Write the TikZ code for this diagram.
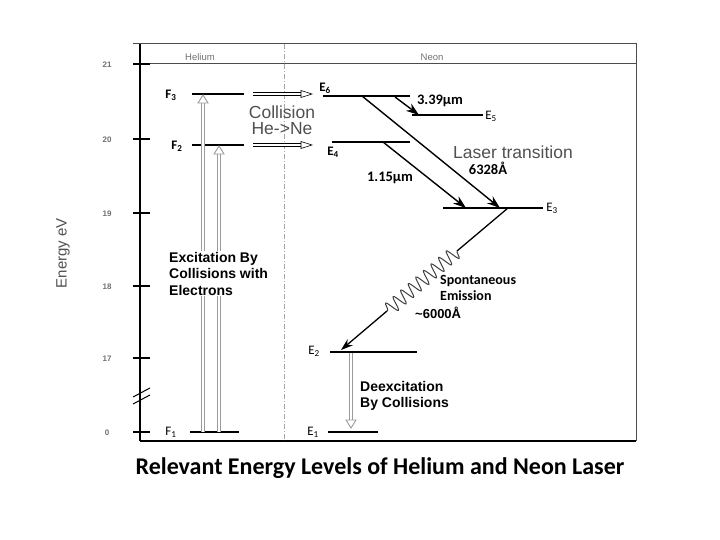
\documentclass[tikz,border=0pt]{standalone}
\usepackage{fontspec}
\setmainfont{Liberation Sans}
\newfontfamily\calib{Carlito}
\usetikzlibrary{arrows.meta,decorations.pathmorphing,calc}
\definecolor{txtgray}{HTML}{505050}
\definecolor{lightgray}{HTML}{707070}
\definecolor{arrgray}{HTML}{9A9A9A}
\newcommand{\lv}[2]{#1\textsubscript{#2}}
\begin{document}
\begin{tikzpicture}[x=1pt,y=-1pt,
  frameline/.style={draw=black!70, line width=1pt},
  lvl/.style={line width=1.5pt},
  ray/.style={line width=1.4pt,-{Stealth[length=13pt,width=9pt]}},
  hshaft/.style={draw=arrgray, double=white, double distance=2.6pt, line width=0.9pt},
  hhead/.style={draw=arrgray, fill=white, line width=0.9pt, line join=miter},
  cshaft/.style={draw=black, double=white, double distance=2.2pt, line width=0.6pt},
  chead/.style={draw=black, fill=white, line width=0.6pt},
  lab/.style={font=\calib\bfseries\fontsize{13}{14}\selectfont, inner sep=0pt},
  num/.style={font=\calib\bfseries\fontsize{14.5}{15}\selectfont, inner sep=0pt},
  ticklab/.style={font=\bfseries\fontsize{8}{9}\selectfont, text=lightgray, inner sep=0pt},
  bigtxt/.style={font=\fontsize{17.5}{16}\selectfont, text=txtgray, inner sep=0pt, align=center},
  boldtxt/.style={font=\bfseries\fontsize{14}{16.5}\selectfont, align=left, inner sep=1pt, anchor=north west},
  hdr/.style={font=\fontsize{9.5}{10}\selectfont, text=lightgray, inner sep=0pt}
]
\useasboundingbox (0,0) rectangle (720,540);

% frame
\draw[frameline] (133,44) -- (636,44) -- (636,441);
\draw[frameline] (133,64) -- (636,64);
\draw[line width=1.8pt] (140,441) -- (636,441);
\draw[line width=1.5pt] (140,44) -- (140,441);
\draw[draw=gray!70, line width=1pt, dash pattern=on 5pt off 2pt on 1pt off 2pt] (284,44) -- (284,441);
\node[hdr] (he) at (200,57) {Helium};
\node[hdr] (ne) at (432,57) {Neon};

% ticks
\foreach \yy/\tl in {64/21,139/20,213/19,286/18,358/17,432/0}{
  \draw[line width=1.2pt] (133,\yy) -- (150,\yy);
  \node[ticklab] at (107,\yy+1) {\tl};
}
\draw[line width=1pt] (133,397) -- (150,388);
\draw[line width=1pt] (133,404) -- (150,395);
\node[rotate=90, font=\fontsize{15}{15}\selectfont, text=txtgray] (ax) at (63,253) {Energy eV};

% helium levels
\coordinate (F3a) at (192,94);  \coordinate (F3b) at (244,94);
\coordinate (F2a) at (192,145); \coordinate (F2b) at (244,145);
\coordinate (F1a) at (190,432); \coordinate (F1b) at (239,432);
\draw[lvl] (F3a) -- (F3b);
\draw[lvl] (F2a) -- (F2b);
\draw[lvl] (F1a) -- (F1b);
\node[lab] (lF3) at (171,95) {\lv{F}{3}};
\node[lab] (lF2) at (177,146) {\lv{F}{2}};
\node[lab, font=\calib\fontsize{13}{14}\selectfont] (lF1) at (171,432) {\lv{F}{1}};

% excitation arrows
\coordinate (x1b) at (203,432); \coordinate (x1t) at (203,95);
\coordinate (x2b) at (219,432); \coordinate (x2t) at (219,146);
\draw[hshaft] (x1b) -- ($(x1t)+(0,6)$);
\draw[hhead] ($(x1t)+(-5,8)$) -- (x1t) -- ($(x1t)+(5,8)$) -- cycle;
\draw[hshaft] (x2b) -- ($(x2t)+(0,6)$);
\draw[hhead] ($(x2t)+(-5,8)$) -- (x2t) -- ($(x2t)+(5,8)$) -- cycle;
\node[boldtxt, fill=white] (exc) at (168,251) {Excitation By\\Collisions with\\Electrons};

% collision arrows
\coordinate (c1a) at (253,94);  \coordinate (c1b) at (312,94);
\coordinate (c2a) at (253,145); \coordinate (c2b) at (312,145);
\draw[cshaft] (c1a) -- ($(c1b)+(-10,0)$);
\draw[chead] ($(c1b)+(-11,-3.5)$) -- (c1b) -- ($(c1b)+(-11,3.5)$) -- cycle;
\draw[cshaft] (c2a) -- ($(c2b)+(-10,0)$);
\draw[chead] ($(c2b)+(-11,-3.5)$) -- (c2b) -- ($(c2b)+(-11,3.5)$) -- cycle;
\node[bigtxt] (col) at (282,120) {Collision\\He->Ne};

% neon levels
\coordinate (E6a) at (323,96);  \coordinate (E6b) at (410,96);
\coordinate (E5a) at (412,115); \coordinate (E5b) at (483,115);
\coordinate (E4a) at (332,142); \coordinate (E4b) at (410,142);
\coordinate (E3a) at (443,208); \coordinate (E3b) at (543,208);
\coordinate (E2a) at (330,352); \coordinate (E2b) at (417,352);
\coordinate (E1a) at (328,432); \coordinate (E1b) at (378,432);
\foreach \l in {E6,E5,E4,E3,E2,E1}{\draw[lvl] (\l a) -- (\l b);}
\node[lab] (lE6) at (325,88) {\lv{E}{6}};
\node[lab, font=\calib\fontsize{13}{14}\selectfont] (lE5) at (491,116) {\lv{E}{5}};
\node[lab] (lE4) at (333,152) {\lv{E}{4}};
\node[lab, font=\calib\fontsize{13}{14}\selectfont] (lE3) at (552,208) {\lv{E}{3}};
\node[lab, font=\calib\fontsize{13}{14}\selectfont] (lE2) at (314,351) {\lv{E}{2}};
\node[lab, font=\calib\fontsize{13}{14}\selectfont] (lE1) at (313,432) {\lv{E}{1}};

% transitions
\coordinate (t1s) at (395,97);  \coordinate (t1e) at (419,115);
\coordinate (t2s) at (362,96);  \coordinate (t2e) at (500,208);
\coordinate (t3s) at (383,142); \coordinate (t3e) at (466,208);
\draw[ray] (t1s) -- (t1e);
\draw[ray] (t2s) -- (t2e);
\draw[ray] (t3s) -- (t3e);
\node[num] (l339) at (440,101) {3.39µm};
\node[num] (l115) at (390,178) {1.15µm};
\node[bigtxt] (lt) at (513,152) {Laser transition};
\node[num] (l6328) at (488,168) {6328Å};

% spontaneous emission
\coordinate (s0) at (508,208);
\coordinate (s1) at (457,251);
\coordinate (s2) at (387,311);
\coordinate (s3) at (341,350);
\draw[line width=1.3pt] (s0) -- (s1);
\draw[line width=1pt, draw=black!75, decorate, decoration={snake, amplitude=7pt, segment length=10pt}] (s1) -- (s2);
\draw[line width=1.3pt, -{Stealth[length=12pt,width=8pt]}] (s2) -- (s3);
\node[font=\calib\bfseries\fontsize{14}{16}\selectfont, align=left, anchor=north west, inner sep=0pt] (spe) at (440,275) {Spontaneous\\Emission};
\node[font=\bfseries\fontsize{13}{14}\selectfont, anchor=west, inner sep=0pt] (l6000) at (415,313) {\textasciitilde6000Å};

% deexcitation
\coordinate (d1) at (351,353); \coordinate (d2) at (351,428);
\draw[hshaft] (d1) -- ($(d2)+(0,-6)$);
\draw[hhead] ($(d2)+(-5,-8)$) -- (d2) -- ($(d2)+(5,-8)$) -- cycle;
\node[boldtxt] (dex) at (359,380) {Deexcitation\\By Collisions};

% title
\node[font=\calib\bfseries\fontsize{24}{26}\selectfont] (title) at (380,468) {Relevant Energy Levels of Helium and Neon Laser};
\end{tikzpicture}
\end{document}
